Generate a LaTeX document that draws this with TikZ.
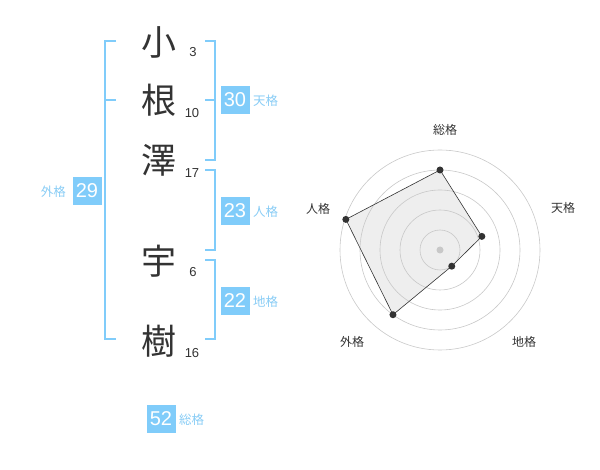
\documentclass[tikz,border=0pt]{standalone}
\usepackage{fontspec}
\setmainfont{Liberation Sans}
\newfontfamily\cjk{Noto Sans CJK JP}
\definecolor{bx}{RGB}{128,204,250}
\definecolor{lb}{RGB}{136,204,245}
\definecolor{ink}{RGB}{51,51,51}
\definecolor{ring}{RGB}{200,200,200}
\definecolor{area}{RGB}{238,238,238}
\begin{document}
\begin{tikzpicture}[x=1pt,y=-1pt,
  kan/.style={font=\cjk\fontsize{35}{35}\selectfont,text=ink,inner sep=0pt},
  strk/.style={font=\fontsize{13}{13}\selectfont,text=ink,inner sep=0pt},
  numbox/.style={fill=bx,text=white,font=\fontsize{20}{20}\selectfont,minimum width=29pt,minimum height=28pt,inner sep=0pt},
  kaku/.style={font=\cjk\fontsize{12.5}{12.5}\selectfont,text=lb,inner sep=0pt},
  brk/.style={draw=bx,line width=2pt},
  rlab/.style={font=\cjk\fontsize{12}{12}\selectfont,text=ink,inner sep=0pt},
  rdot/.style={circle,fill=ink,inner sep=0pt,minimum size=7pt}]
\useasboundingbox (0,0) rectangle (600,470);
% name characters
\node[kan] (c1) at (159,42) {小};
\node[kan] (c2) at (159,100) {根};
\node[kan] (c3) at (159,160) {澤};
\node[kan] (c4) at (159,261) {宇};
\node[kan] (c5) at (159,341) {樹};
\node[strk] (s1) at (193,52) {3};
\node[strk] (s2) at (192,113) {10};
\node[strk] (s3) at (192,173) {17};
\node[strk] (s4) at (193,272) {6};
\node[strk] (s5) at (192,353) {16};
% brackets
\draw[brk] (116,41) -| (105,339) -- (116,339);
\draw[brk] (105,100) -- (116,100);
\draw[brk] (205,41) -| (215,160) -- (205,160);
\draw[brk] (215,100) -- (205,100);
\draw[brk] (205,170) -| (215,250) -- (205,250);
\draw[brk] (205,260) -| (215,339) -- (205,339);
% boxes
\node[numbox] (ten) at (235,100) {30};
\node[kaku,anchor=west] (tenl) at (253,101) {天格};
\node[numbox] (jin) at (235,211) {23};
\node[kaku,anchor=west] (jinl) at (253,212) {人格};
\node[numbox] (chi) at (235,301) {22};
\node[kaku,anchor=west] (chil) at (253,302) {地格};
\node[numbox] (gai) at (87,191) {29};
\node[kaku,anchor=east] (gail) at (66,192) {外格};
\node[numbox] (sou) at (161,419) {52};
\node[kaku,anchor=west] (soul) at (179,420) {総格};
% radar
\coordinate (O) at (440,250);
\path (O) ++(-90:80) coordinate (p1);
\path (O) ++(-18:44) coordinate (p2);
\path (O) ++(54:20) coordinate (p3);
\path (O) ++(126:80) coordinate (p4);
\path (O) ++(198:99) coordinate (p5);
\fill[area] (p1) -- (p2) -- (p3) -- (p4) -- (p5) -- cycle;
\foreach \r in {20,40,60,80,100} \draw[ring,line width=0.6pt] (O) circle[radius=\r];
\fill[ring] (O) circle[radius=3.5];
\draw[ink,line width=0.6pt] (p1) -- (p2) -- (p3) -- (p4) -- (p5) -- cycle;
\foreach \p in {p1,p2,p3,p4,p5} \node[rdot] at (\p) {};
\node[rlab] (l1) at (445,130) {総格};
\node[rlab] (l2) at (563,208) {天格};
\node[rlab] (l3) at (524,342) {地格};
\node[rlab] (l4) at (352,342) {外格};
\node[rlab] (l5) at (318,209) {人格};
\end{tikzpicture}
\end{document}
